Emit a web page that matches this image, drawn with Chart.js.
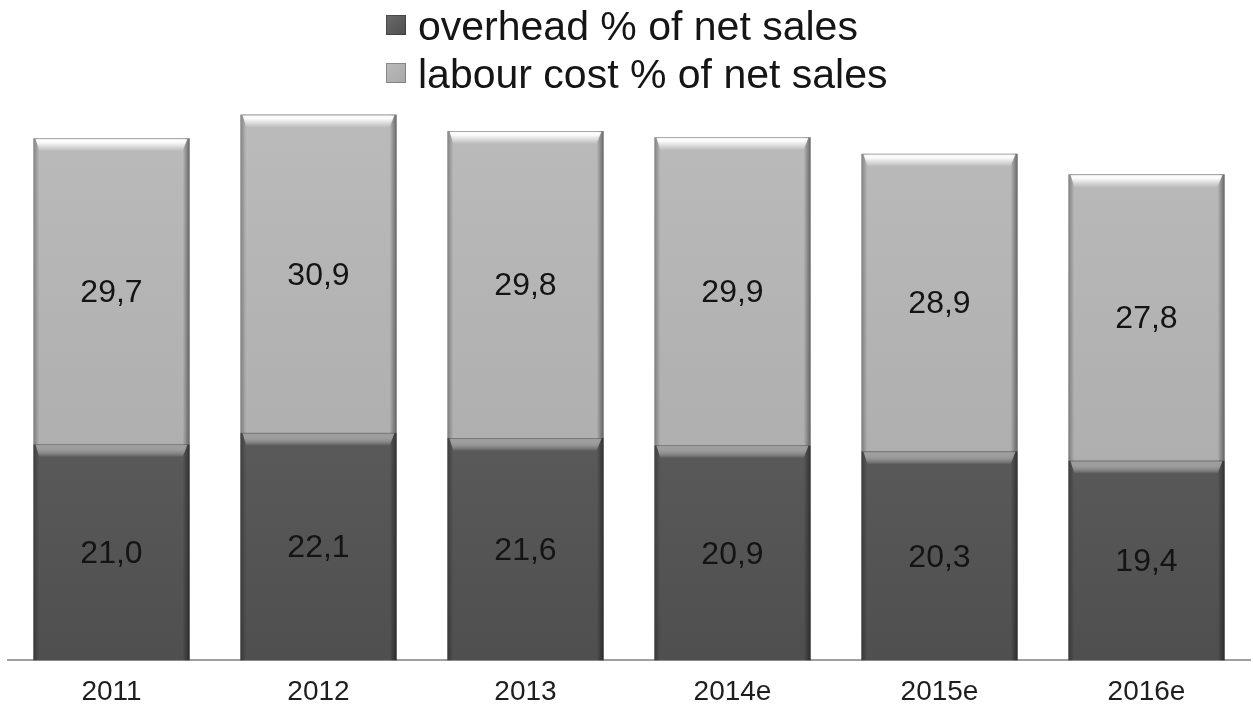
<!DOCTYPE html>
<html>
<head>
<meta charset="utf-8">
<script src="https://cdn.jsdelivr.net/npm/chart.js@4/dist/chart.umd.min.js"></script>
<style>
  html, body { margin: 0; padding: 0; background: #fff; overflow: hidden; }
  #wrap { width: 1253px; height: 716px; }
</style>
</head>
<body>
<div id="wrap"><canvas id="costChart"></canvas></div>
<script>
// Cost ratios per year
const years = ['2011', '2012', '2013', '2014e', '2015e', '2016e'];
const overheadPct = [21.0, 22.1, 21.6, 20.9, 20.3, 19.4];
const labourPct = [29.7, 30.9, 29.8, 29.9, 28.9, 27.8];
const seriesLabels = ['overhead % of net sales', 'labour cost % of net sales'];

const FONT = 'Arial, "Liberation Sans", sans-serif';
const shades = {
  dark:  { top: '#6a6a6a', bottom: '#4f4f4f', hi: 'rgba(175,175,175,0.8)' },
  light: { top: '#bbbbbb', bottom: '#a8a8a8', hi: 'rgba(255,255,255,0.95)' }
};

function vGrad(chart, c) {
  const area = chart.chartArea;
  if (!area) return c.top;
  const g = chart.ctx.createLinearGradient(0, area.top, 0, area.bottom);
  g.addColorStop(0, c.top);
  g.addColorStop(1, c.bottom);
  return g;
}

const fmt = v => v.toFixed(1).replace('.', ',');

// Bevel edges and value text on each bar segment
const bevel = {
  id: 'bevel',
  afterDatasetsDraw(chart) {
    const ctx = chart.ctx;
    chart.data.datasets.forEach((ds, i) => {
      const meta = chart.getDatasetMeta(i);
      const c = ds.shade;
      meta.data.forEach(bar => {
        const { x, y, base, width } = bar.getProps(['x', 'y', 'base', 'width'], true);
        const l = x - width / 2, r = x + width / 2, h = base - y;
        ctx.save();
        // left / right shading
        let g = ctx.createLinearGradient(l, 0, l + 6, 0);
        g.addColorStop(0, 'rgba(0,0,0,0.3)');
        g.addColorStop(1, 'rgba(0,0,0,0)');
        ctx.fillStyle = g;
        ctx.fillRect(l, y, 6, h);
        g = ctx.createLinearGradient(r, 0, r - 7, 0);
        g.addColorStop(0, 'rgba(0,0,0,0.45)');
        g.addColorStop(1, 'rgba(0,0,0,0)');
        ctx.fillStyle = g;
        ctx.fillRect(r - 7, y, 7, h);
        // top highlight band
        g = ctx.createLinearGradient(0, y, 0, y + 13);
        g.addColorStop(0, 'rgba(110,110,110,0.5)');
        g.addColorStop(0.1, c.hi);
        g.addColorStop(0.3, c.hi);
        g.addColorStop(1, 'rgba(255,255,255,0)');
        ctx.fillStyle = g;
        ctx.beginPath();
        ctx.moveTo(l + 2, y);
        ctx.lineTo(r - 2, y);
        ctx.lineTo(r - 7, y + 13);
        ctx.lineTo(l + 6, y + 13);
        ctx.closePath();
        ctx.fill();
        // value label
        ctx.fillStyle = '#141414';
        ctx.font = '32px ' + FONT;
        ctx.textAlign = 'center';
        ctx.textBaseline = 'middle';
        ctx.fillText(fmt(ds.data[bar.$context.index]), x, (y + base) / 2 + 2);
        ctx.restore();
      });
    });
  }
};

// Two-row legend above the plot
const keyBlock = {
  id: 'keyBlock',
  afterDraw(chart) {
    const ctx = chart.ctx;
    ctx.save();
    ctx.font = '41px ' + FONT;
    ctx.textBaseline = 'alphabetic';
    ctx.textAlign = 'left';
    chart.data.datasets.forEach((ds, row) => {
      const base = 40 + row * 48;
      const bx = 386, by = base - 25, s = 20;
      const g = ctx.createLinearGradient(bx, by, bx + s, by + s);
      g.addColorStop(0, ds.shade.top);
      g.addColorStop(1, ds.shade.bottom);
      ctx.fillStyle = g;
      ctx.fillRect(bx, by, s, s);
      ctx.strokeStyle = 'rgba(0,0,0,0.25)';
      ctx.lineWidth = 1;
      ctx.strokeRect(bx + 0.5, by + 0.5, s - 1, s - 1);
      ctx.fillStyle = '#151515';
      ctx.fillText(ds.label, 418, base);
    });
    ctx.restore();
  }
};

new Chart(document.getElementById('costChart'), {
  type: 'bar',
  data: {
    labels: years,
    datasets: [
      { label: seriesLabels[0], data: overheadPct, shade: shades.dark,
        backgroundColor: ctx => vGrad(ctx.chart, shades.dark) },
      { label: seriesLabels[1], data: labourPct, shade: shades.light,
        backgroundColor: ctx => vGrad(ctx.chart, shades.light) }
    ]
  },
  options: {
    responsive: true,
    maintainAspectRatio: false,
    animation: false,
    layout: { padding: { top: 94, left: 8, right: 3, bottom: 0 } },
    datasets: { bar: { categoryPercentage: 0.755, barPercentage: 1, borderWidth: 0 } },
    plugins: { legend: { display: false }, tooltip: { enabled: false } },
    scales: {
      x: {
        stacked: true,
        grid: { display: false },
        border: { display: true, color: '#a0a0a0', width: 2 },
        ticks: { color: '#1e1e1e', padding: 7, font: { family: FONT, size: 28 } }
      },
      y: { stacked: true, display: false, min: 0, max: 55 }
    }
  },
  plugins: [bevel, keyBlock]
});
</script>
</body>
</html>
